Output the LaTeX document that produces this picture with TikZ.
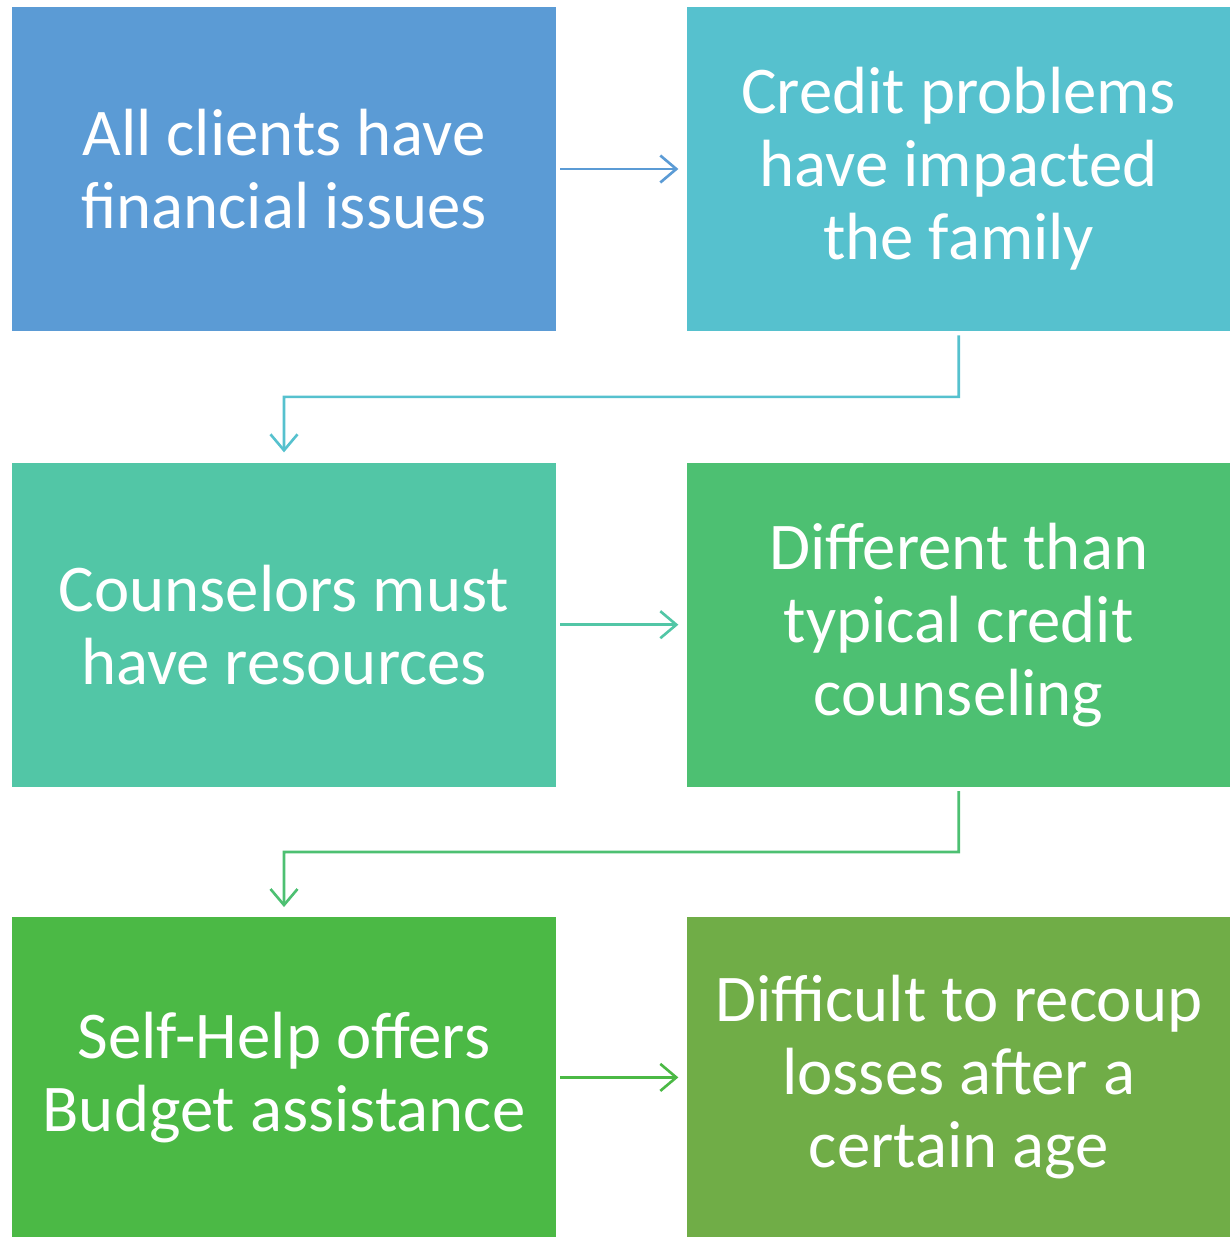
\documentclass[tikz,border=0pt]{standalone}
\usepackage{fontspec}
\setmainfont{Carlito}
\usetikzlibrary{arrows.meta, positioning, calc}
\definecolor{stepA}{RGB}{91,155,213}
\definecolor{stepB}{RGB}{86,193,206}
\definecolor{stepC}{RGB}{82,198,166}
\definecolor{stepD}{RGB}{77,192,114}
\definecolor{stepE}{RGB}{75,185,69}
\definecolor{stepF}{RGB}{112,173,71}
\tikzset{
    stepbox/.style = {minimum width = 10.88cm, minimum height = 6.48cm, inner sep = 0pt,
        text = white, align = center, font = \fontsize{38}{41.5}\selectfont},
    flow/.style = {line width = 1.5pt, arrows = {-Straight Barb[length=0.32cm, width=0.54cm, line width=1.5pt]}}
}
\begin{document}
\begin{tikzpicture}
        % Riquadro
        \useasboundingbox (0,0) rectangle (24.58,-24.74);
        % Passi
        \node[stepbox, fill = stepA] (All) at (5.68,-3.38) {All clients have\\financial issues};
        \node[stepbox, fill = stepB, right = 2.6cm of All] (Credit) {Credit problems\\have impacted\\the family};
        \node[stepbox, fill = stepC, below = 2.62cm of All] (Counsel) {Counselors must\\have resources};
        \node[stepbox, fill = stepD, right = 2.6cm of Counsel] (Differ) {Different than\\typical credit\\counseling};
        \node[stepbox, fill = stepE, minimum height = 6.4cm, below = 2.6cm of Counsel] (Self) {Self-Help offers\\Budget assistance};
        \node[stepbox, fill = stepF, minimum height = 6.4cm, right = 2.6cm of Self] (Recoup) {Difficult to recoup\\losses after a\\certain age};
        % Punti di svolta
        \coordinate (turnA) at ($(All.south)!0.5!(Counsel.north)$);
        \coordinate (turnB) at ($(Counsel.south)!0.5!(Self.north)$);
        % Frecce
        \draw[flow, stepA, shorten <= 0.08cm, shorten >= 0.16cm] (All.east) -- (Credit.west);
        \draw[flow, stepB, shorten <= 0.08cm, shorten >= 0.2cm] (Credit.south) |- (turnA) -- (Counsel.north);
        \draw[flow, stepC, shorten <= 0.08cm, shorten >= 0.16cm] (Counsel.east) -- (Differ.west);
        \draw[flow, stepD, shorten <= 0.08cm, shorten >= 0.2cm] (Differ.south) |- (turnB) -- (Self.north);
        \draw[flow, stepE, shorten <= 0.08cm, shorten >= 0.16cm] (Self.east) -- (Recoup.west);
    \end{tikzpicture}
\end{document}
